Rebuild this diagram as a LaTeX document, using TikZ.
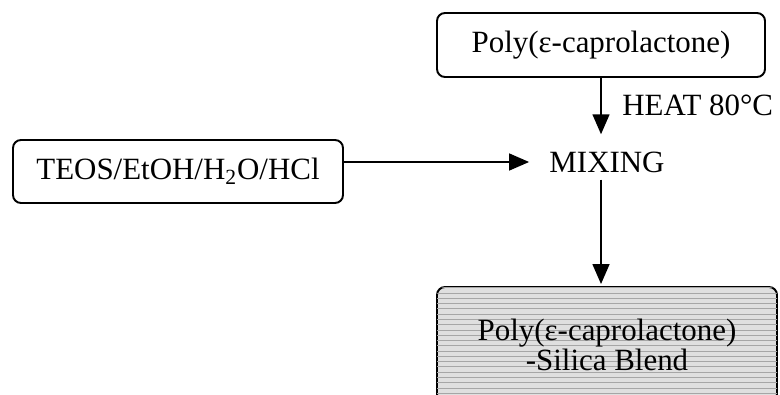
\documentclass[tikz,border=0pt]{standalone}
\usepackage{fontspec}
\setmainfont{Liberation Serif}
\usetikzlibrary{arrows.meta,patterns}
\begin{document}
\begin{tikzpicture}[font=\fontsize{17.6}{21}\selectfont,
  box/.style={draw,line width=1.1pt,rounded corners=0.16cm,align=center},
  arr/.style={line width=0.85pt,-{Triangle[width=0.34cm,length=0.4cm]}}]
\useasboundingbox (0,0) rectangle (15.6,7.88);
\node[box,minimum width=6.56cm,minimum height=1.28cm] (poly) at (12.02,6.98) {Poly(ε-caprolactone)};
\node[box,minimum width=6.6cm,minimum height=1.26cm] (teos) at (3.56,4.45) {TEOS/EtOH/H\textsubscript{2}O/HCl};
\node[inner sep=0] (mix) at (12.14,4.64) {MIXING};
\node[anchor=west,inner sep=0] (heat) at (12.44,5.78) {HEAT 80°C};
\node[box,fill=gray!25,postaction={pattern=horizontal lines,pattern color=gray!70},
  minimum width=6.8cm,minimum height=2.3cm,font=\fontsize{17.6}{15.4}\selectfont]
  (blend) at (12.14,0.99) {Poly(ε-caprolactone)\\-Silica Blend};
\draw[arr,shorten >=0.4cm] (teos.east |- mix.west) -- (mix.west);
\draw[arr,shorten >=0.34cm] (poly.south) -- (poly.south |- mix.north);
\draw[arr,shorten <=0.14cm,shorten >=0.04cm] (poly.south |- mix.south) -- (poly.south |- blend.north);
\end{tikzpicture}
\end{document}
